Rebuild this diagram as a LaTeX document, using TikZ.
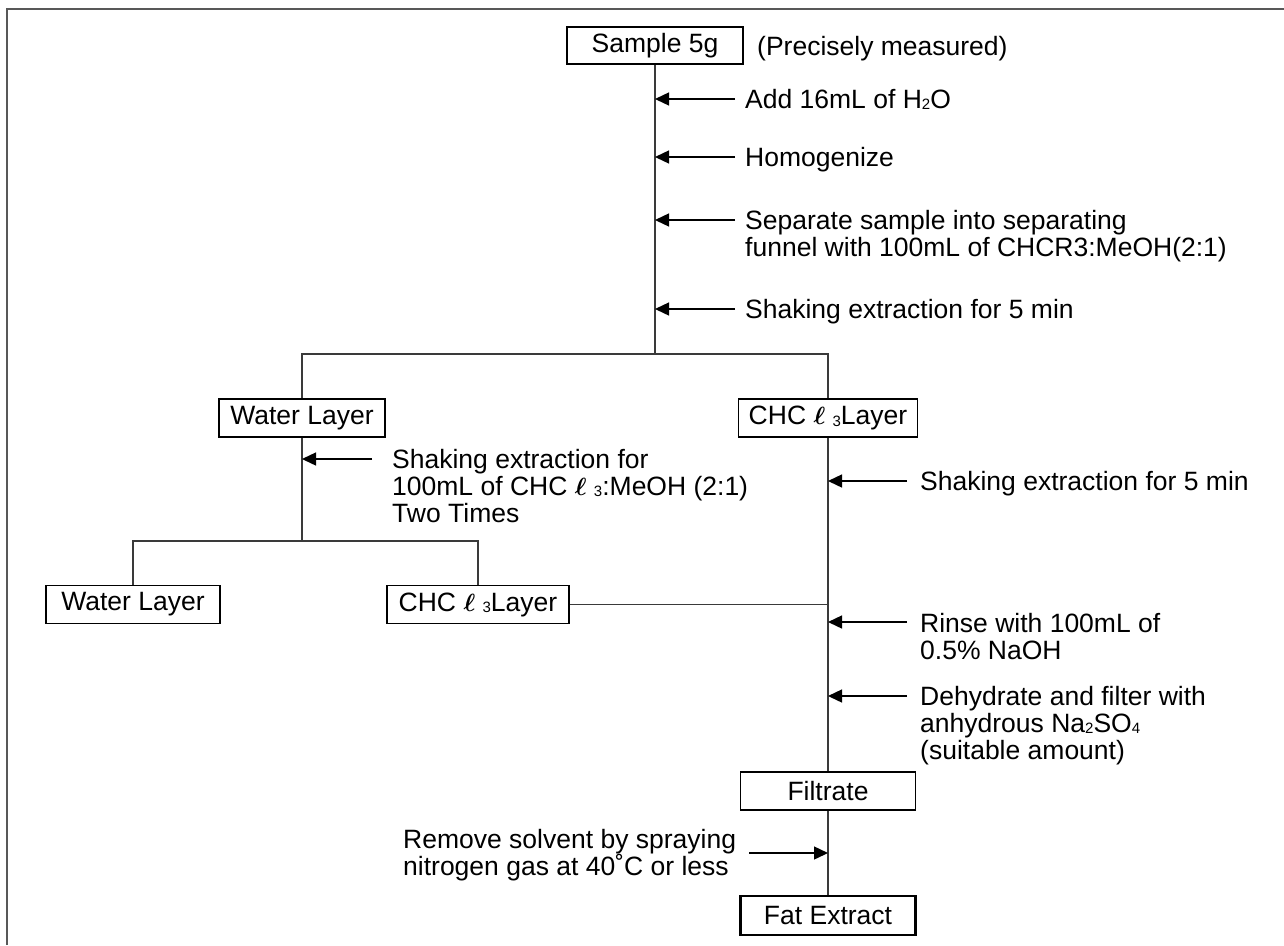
\documentclass[tikz,border=0pt]{standalone}
\usepackage{fontspec}
\usepackage{bm}
\setmainfont{Liberation Sans}
\usetikzlibrary{arrows.meta}
\definecolor{linegray}{HTML}{3A3A3A}
\definecolor{framegray}{HTML}{585858}
\newcommand{\lowsub}[1]{\raisebox{-1.5pt}{\fontsize{15}{15}\selectfont #1}}
\newcommand{\chcl}{CHC $\bm{\ell}$ \lowsub{3}}

\begin{document}
\begin{tikzpicture}[x=1pt,y=-1pt,font=\fontsize{26.5}{27}\selectfont]
\tikzset{Box/.style =
	{draw=black,
		line width = 1.2pt,
		inner sep = 0pt,
		minimum height = 38pt},
	BoldBox/.style = {Box, line width = 2.8pt},
	Note/.style = {align = left, inner sep = 0pt},
	Feed/.style = {-{Triangle[length=14pt,width=13pt]}, line width = 1.4pt},
	Link/.style = {draw = linegray, line width = 1.2pt}}
\useasboundingbox (0,0) rectangle (1284,945);
\draw[draw = framegray, line width = 2pt] (7,945) -- (7,9) -- (1284,9);
% main line
\node[BoldBox, minimum width = 176pt, minimum height = 37pt] (sample) at (655,45.5) {Sample 5g};
\node[Note, anchor = base west] (precise) at (757,55) {(Precisely measured)};
\coordinate (split) at (655,354);
\draw[Link] (sample) -- (split);
\foreach \n/\y in {add/99, homo/157, sep/220, shake/309}
	{\coordinate (\n-in) at (735,\y); \draw[Feed] (\n-in) -- (\n-in -| sample);}
\node[Note, anchor = base west] (add) at (745,108) {Add 16mL of H\lowsub{2}O};
\node[Note, anchor = base west] (homo) at (745,166) {Homogenize};
\node[Note, anchor = north west] (sep) at (745,210) {Separate sample into separating\\funnel with 100mL of CHCR3:MeOH(2:1)};
\node[Note, anchor = base west] (shake) at (745,318) {Shaking extraction for 5 min};
% two layers
\node[Box, minimum width = 166pt] (water) at (302,418) {Water Layer};
\node[Box, minimum width = 179pt] (chc) at (828,418) {\chcl Layer};
\draw[Link] (water) |- (split) -| (chc);
% water layer again
\coordinate (lsplit) at (302,541);
\draw[Link] (water) -- (lsplit);
\coordinate (ext-in) at (372,459);
\draw[Feed] (ext-in) -- (ext-in -| water);
\node[Note, anchor = north west] (ext) at (392,449) {Shaking extraction for\\100mL of \chcl:MeOH (2:1)\\Two Times};
\node[Box, minimum width = 174pt] (water2) at (133,604.5) {Water Layer};
\node[Box, minimum width = 182pt] (chc2) at (478,604.5) {\chcl Layer};
\draw[Link] (water2) |- (lsplit) -| (chc2);
% chloroform side
\node[Box, minimum width = 175pt] (filt) at (828,791) {Filtrate};
\draw[Link] (chc) -- (filt);
\draw[Link] (chc2) -- (chc2 -| filt);
\foreach \n/\y in {shaketwo/481, rinse/622, dehyd/696}
	{\coordinate (\n-in) at (907,\y); \draw[Feed] (\n-in) -- (\n-in -| chc);}
\node[Note, anchor = base west] (shaketwo) at (920,490) {Shaking extraction for 5 min};
\node[Note, anchor = north west] (rinse) at (920,613) {Rinse with 100mL of\\0.5\% NaOH};
\node[Note, anchor = north west] (dehyd) at (920,686) {Dehydrate and filter with\\anhydrous Na\lowsub{2}SO\lowsub{4}\\(suitable amount)};
% final
\node[BoldBox, minimum width = 175pt, minimum height = 39pt] (fat) at (828,915.5) {Fat Extract};
\draw[Link] (filt) -- (fat);
\coordinate (rem-in) at (749,853);
\draw[Feed] (rem-in) -- (rem-in -| fat);
\node[Note, anchor = north west] (rem) at (403,829) {Remove solvent by spraying\\nitrogen gas at 40˚C or less};
\end{tikzpicture}
\end{document}
